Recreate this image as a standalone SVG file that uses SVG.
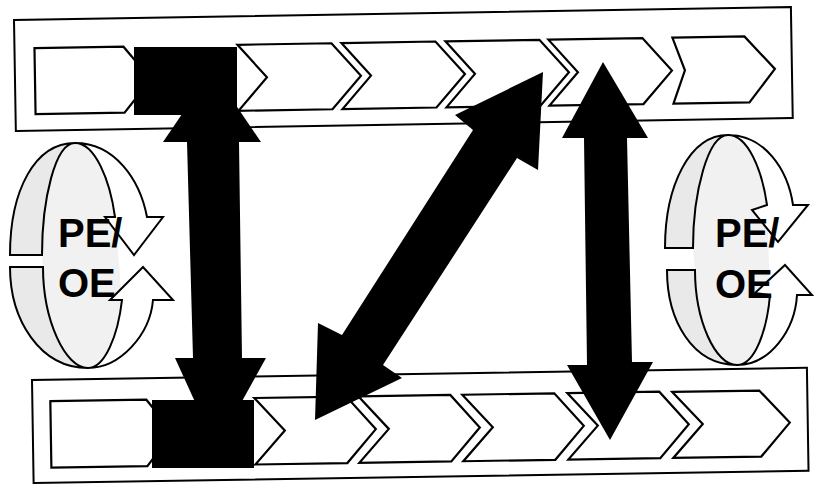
<svg xmlns="http://www.w3.org/2000/svg" width="817" height="484" viewBox="0 0 817 484">
<style>
.band{fill:#fff;stroke:#000;stroke-width:2}
.chev{fill:#fff;stroke:#000;stroke-width:2.2;stroke-linejoin:miter}
.blk{fill:#000;stroke:none}
.lens{fill:#e9e9e9;stroke:#000;stroke-width:2}
.front{fill:#fff;stroke:#000;stroke-width:2}
.inside{fill:#f1f1f1;stroke:none}
.lbl{font-family:"Liberation Sans",Arial,sans-serif;font-size:40px;font-weight:bold;fill:#000}
</style>
<rect width="817" height="484" fill="#fff"/>

<g id="top-band" transform="rotate(-0.95 14 20)">
  <rect class="band" x="14" y="20" width="777" height="111"/>
  <polygon class="chev" points="34,48.5 123,48.5 150,81.5 123,114.5 34,114.5"/>
  <polygon class="chev" points="237,48.5 331,48.5 360,81.5 331,114.5 237,114.5 266,81.5"/>
  <polygon class="chev" points="341,48.5 435,48.5 464,81.5 435,114.5 341,114.5 370,81.5"/>
  <polygon class="chev" points="445,48.5 539,48.5 568,81.5 539,114.5 445,114.5 474,81.5"/>
  <polygon class="chev" points="548,48.5 642,48.5 671,81.5 642,114.5 548,114.5 577,81.5"/>
  <polygon class="chev" points="672,48.5 744,48.5 774,81.5 748,114.5 672,114.5 684,81.5"/>
</g>

<g id="bottom-band" transform="rotate(-0.9 32 380)">
  <rect class="band" x="32" y="380" width="775" height="103"/>
  <polygon class="chev" points="50,401.5 146,401.5 172,434.5 146,468 50,468"/>
  <polygon class="chev" points="254,401.5 346,401.5 375,434.5 346,468 254,468 284,434.5"/>
  <polygon class="chev" points="358,401.5 450,401.5 479,434.5 450,468 358,468 388,434.5"/>
  <polygon class="chev" points="462,401.5 554,401.5 583,434.5 554,468 462,468 492,434.5"/>
  <polygon class="chev" points="567,401.5 659,401.5 688,434.5 659,468 567,468 597,434.5"/>
  <polygon class="chev" points="672,402 759,402 789,434.5 760,468 672,468 702,434.5"/>
</g>

<g id="cycle-left">
  <path class="inside" d="M75 143 C55 143 42 200 42 255 L43 267 C43 320 65 368 88 368 C105 368 118 335 122 300 L115 217 C110 180 95 143 75 143 Z"/>
  <path class="lens" d="M10 255 C10 190 35 143 75 143 C55 143 42 200 42 255 Z"/>
  <path class="front" d="M75 143 C115 143 140 180 147 217 L163 217 L134 255 L105 217 L115 217 C110 180 95 143 75 143 Z"/>
  <path class="lens" d="M10 267 L43 267 C43 320 65 368 88 368 C40 368 10 320 10 267 Z"/>
  <path class="front" d="M88 368 C120 368 150 335 153 300 L173 300 L143 267 L110 300 L122 300 C118 335 105 368 88 368 Z"/>
  <text class="lbl" x="58" y="247">PE/</text>
  <text class="lbl" x="58" y="297">OE</text>
</g>

<g id="cycle-right">
  <path class="inside" d="M728 135 C708 135 693 192 693 248 L695 270 C695 320 715 365 737 365 C755 365 767 330 770 295 L767 205 C762 170 748 135 728 135 Z"/>
  <path class="lens" d="M665 248 C665 185 690 135 728 135 C708 135 693 192 693 248 Z"/>
  <path class="front" d="M728 135 C765 135 788 170 793 205 L808 205 L778 242 L752 210 L767 205 C762 170 748 135 728 135 Z"/>
  <path class="lens" d="M667 270 L695 270 C695 320 715 365 737 365 C692 365 667 320 667 270 Z"/>
  <path class="front" d="M737 365 C770 365 795 330 797 295 L812 295 L785 265 L755 293 L770 295 C767 330 755 365 737 365 Z"/>
  <text class="lbl" x="715" y="247">PE/</text>
  <text class="lbl" x="715" y="298">OE</text>
</g>

<g id="connectors">
  <polygon class="blk" points="212,70 261,142 239,142 242,358 266,358 216,448 175,358 193,358 187,142 163,142"/>
  <polygon class="blk" points="543,72 538,170 517,158 383,365 402,378 315,420 318,323 342,335 473,130 455,115"/>
  <polygon class="blk" points="603,62 648,138 627,138 632,362 653,362 610,440 567,365 587,365 584,138 562,138"/>
</g>

<g id="block-top"><rect class="blk" x="134" y="47" width="103" height="68"/></g>
<g id="block-bottom"><rect class="blk" x="152" y="400" width="102" height="68"/></g>
</svg>
